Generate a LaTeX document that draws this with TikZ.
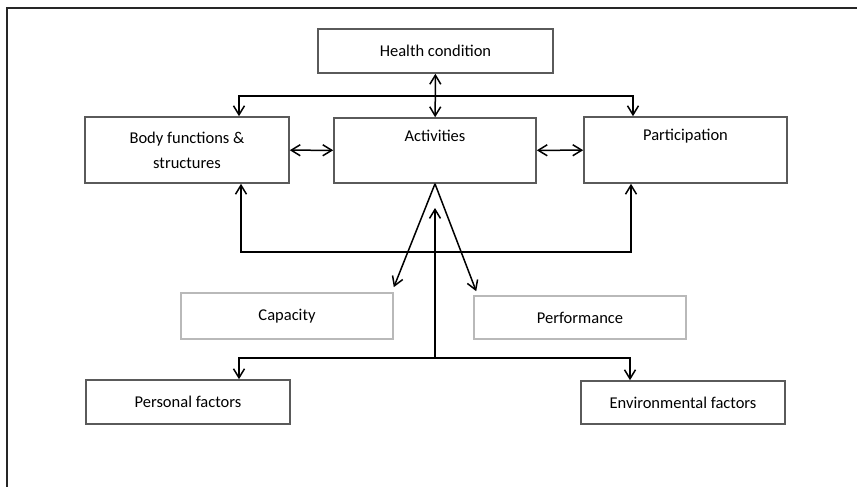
\documentclass[tikz,border=0pt]{standalone}
\usepackage{fontspec}
\setmainfont{Carlito}
\usepackage{tikz}
\usetikzlibrary{arrows.meta}

\definecolor{boxgray}{RGB}{90,90,90}
\definecolor{palegray}{RGB}{185,185,185}
\definecolor{inkgray}{RGB}{0,0,0}

\begin{document}
\begin{tikzpicture}[x=1pt,y=-1pt,
	box/.style={draw=boxgray,line width=1.6pt,text=inkgray,align=center,inner sep=0pt,
		font=\fontsize{16.5}{25}\selectfont},
	softbox/.style={box,draw=palegray},
	topbox/.style={text height=12pt,text depth=31pt},
	conn/.style={line width=1.5pt,>={Straight Barb[length=9pt,width=11pt]}}]
	\useasboundingbox (0,0) rectangle (857,487);
	% frame
	\draw[line width=2.6pt,draw=black!85] (7,487) -- (7,8) -- (857,8);
	% nodes
	\node[box,minimum width=235pt,minimum height=44pt] (H) at (435.5,51) {Health condition};
	\node[box,minimum width=204pt,minimum height=66pt] (B) at (187,150) {Body functions \&\\structures};
	\node[box,topbox,minimum width=202pt,minimum height=65pt] (A) at (435,150.5) {Activities};
	\node[box,topbox,minimum width=203pt,minimum height=66pt] (P) at (685.5,150) {Participation};
	\node[softbox,minimum width=212pt,minimum height=46pt] (C) at (287,316) {Capacity};
	\node[softbox,minimum width=212pt,minimum height=43pt] (Pf) at (580,317.5) {Performance};
	\node[box,minimum width=204pt,minimum height=44pt] (Pe) at (188,402) {Personal factors};
	\node[box,minimum width=204pt,minimum height=43pt] (E) at (683,402.5) {Environmental factors};
	% corner points
	\coordinate (ht) at (239,96);
	\coordinate (pt) at (633,96);
	\coordinate (lb) at (241,252);
	\coordinate (rb) at (631,252);
	\coordinate (fj) at (435,358);
	\coordinate (fu) at (435,208);
	\coordinate (fl) at (239,358);
	\coordinate (fr) at (630,358);
	% top arrows
	\draw[conn,<->] (H) -- (A);
	\draw[conn,<->] (B.north -| ht) -- (ht) -- (pt) -- (P.north -| pt);
	% side arrows
	\draw[conn,<->] (B) -- (A);
	\draw[conn,<->] (A) -- (P);
	% lower loop
	\draw[conn,<->] (B.south -| lb) -- (lb) -- (rb) -- (P.south -| rb);
	\draw[conn,->] (A.south) -- ([yshift=5pt]C.north east);
	\draw[conn,->] (A.south) -- ([xshift=3pt,yshift=4pt]Pf.north west);
	% factors
	\draw[conn,->] (fj) -- (fu);
	\draw[conn,<->] (Pe.north -| fl) -- (fl) -- (fr) -- (E.north -| fr);
\end{tikzpicture}
\end{document}
